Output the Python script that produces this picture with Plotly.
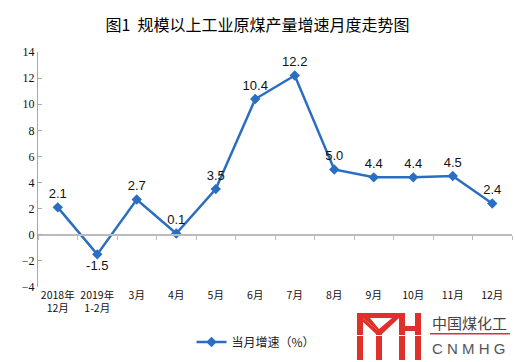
import plotly.graph_objects as go

categories = ["2018年<br>12月", "2019年<br>1-2月", "3月", "4月", "5月", "6月", "7月",
              "8月", "9月", "10月", "11月", "12月"]
growth = [2.1, -1.5, 2.7, 0.1, 3.5, 10.4, 12.2, 5.0, 4.4, 4.4, 4.5, 2.4]
labels = ["2.1", "-1.5", "2.7", "0.1", "3.5", "10.4", "12.2", "5.0", "4.4", "4.4", "4.5", "2.4"]
positions = ["top center" if v >= 0 else "bottom center" for v in growth]
series_name = "当月增速（%）"
y_ticks = [-4, -2, 0, 2, 4, 6, 8, 10, 12, 14]

W, H = 515, 362
L, R, T, B = 38, 3, 52, 75
PW, PH = W - L - R, H - T - B

def px(x):
    return (x - L) / PW

def py(y):
    return (H - B - y) / PH

blue = "#2A6EC3"
fig = go.Figure()
fig.add_trace(go.Scatter(
    x=categories, y=growth, mode="lines+markers+text",
    name=series_name, text=labels, textposition=positions,
    textfont=dict(family="Liberation Sans", size=13, color="#111"),
    line=dict(color=blue, width=2.5),
    marker=dict(symbol="diamond", size=8, color=blue),
    cliponaxis=False,
))
fig.add_trace(go.Scatter(x=categories, y=growth, xaxis="x2", mode="none",
                         showlegend=False, hoverinfo="skip"))

fig.update_layout(
    width=W, height=H, margin=dict(l=L, r=R, t=T, b=B),
    paper_bgcolor="white", plot_bgcolor="white",
    title=dict(text="图1  规模以上工业原煤产量增速月度走势图", x=0.5, xanchor="center",
               y=1 - 25 / H, yanchor="middle",
               font=dict(family="Noto Sans CJK SC", size=16, color="#000")),
    xaxis=dict(type="category", range=[-0.5, 11.5], showline=False, ticks="",
               showgrid=False, zeroline=False,
               tickfont=dict(family="Noto Sans CJK SC", size=10.5, color="#111")),
    xaxis2=dict(type="category", range=[-0.5, 11.5], overlaying="x", anchor="free",
                position=4 / 18,
                side="bottom", showticklabels=False, ticks="outside", tickson="boundaries",
                ticklen=4, tickcolor="#BBBBBB", showline=True, linecolor="#BBBBBB",
                linewidth=1.5, showgrid=False, zeroline=False),
    yaxis=dict(range=[-4, 14], tickvals=y_ticks, showgrid=False, zeroline=False,
               showline=True, linecolor="#A8A8A8", linewidth=1, ticks="inside",
               ticklen=4, tickcolor="#A8A8A8",
               tickfont=dict(family="Liberation Serif, serif", size=12, color="#111")),
    legend=dict(orientation="h", x=px(256), xanchor="center", y=py(342), yanchor="middle",
                xref="paper", font=dict(family="Noto Sans CJK SC", size=12, color="#222"),
                bgcolor="rgba(0,0,0,0)"),
    showlegend=True,
)

red = "#E0302A"
def rect(x0, y0, x1, y1, color=red):
    fig.add_shape(type="rect", xref="paper", yref="paper",
                  x0=px(x0), x1=px(x1), y0=py(y1), y1=py(y0),
                  fillcolor=color, line=dict(width=0), layer="above")

# logo
rect(357, 313, 400, 318)
rect(357, 313, 363, 360)
rect(376, 330, 382, 360)
rect(399, 313, 405, 360)
rect(415, 313, 421, 360)
rect(399, 326, 421, 331)
fig.add_shape(type="path", xref="paper", yref="paper", layer="above",
              path="M {} {} L {} {} L {} {} L {} {} L {} {} L {} {} Z".format(
                  px(363), py(318), px(370), py(318), px(379), py(329),
                  px(392), py(318), px(399), py(318), px(382), py(334)),
              fillcolor=red, line=dict(width=0))
fig.add_shape(type="path", xref="paper", yref="paper", layer="above",
              path="M {} {} L {} {} L {} {} L {} {} Z".format(
                  px(363), py(318), px(382), py(334), px(376), py(334), px(363), py(322)),
              fillcolor=red, line=dict(width=0))
rect(355, 335, 425, 336, color="white")
fig.add_annotation(text="中国煤化工", xref="paper", yref="paper", x=px(430), y=py(322),
                   xanchor="left", yanchor="middle", showarrow=False,
                   font=dict(family="Noto Sans CJK SC", size=15, color="#444"))
rect(430, 333, 510, 334.5)
fig.add_annotation(text="C N M H G", xref="paper", yref="paper", x=px(430), y=py(348),
                   xanchor="left", yanchor="middle", showarrow=False,
                   font=dict(family="Liberation Sans", size=15, color="#555"))

fig.write_html("out.html", config={"displayModeBar": False},
               post_script="document.body.style.margin='0';document.body.style.overflow='hidden';")
